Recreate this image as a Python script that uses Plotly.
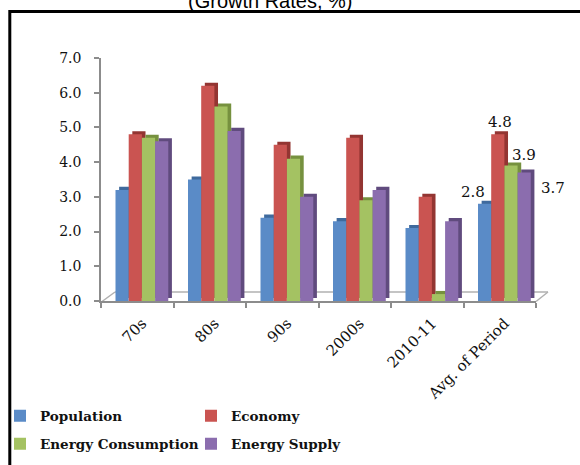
import plotly.graph_objects as go

# ---------------- data ----------------
categories = ["70s", "80s", "90s", "2000s", "2010-11", "Avg. of Period"]
series_names = ["Population", "Economy", "Energy Consumption", "Energy Supply"]
population = [3.2, 3.5, 2.4, 2.3, 2.1, 2.8]
economy = [4.8, 6.2, 4.5, 4.7, 3.0, 4.8]
energy_consumption = [4.7, 5.6, 4.1, 2.9, 0.2, 3.9]
energy_supply = [4.6, 4.9, 3.0, 3.2, 2.3, 3.7]
y_ticks = [0, 1, 2, 3, 4, 5, 6, 7]

series_values = [population, economy, energy_consumption, energy_supply]
front_colors = ["#5A8BC7", "#CA5451", "#A4C262", "#8B6DAE"]
side_colors = ["#3F6A9D", "#933532", "#76913F", "#604B7E"]
legend_ids = ["legend", "legend", "legend2", "legend2"]

# ---------------- layout geometry (pixels) ----------------
W, H = 580, 465
L, R, T, B = 101, 536, 58, 301


def pxx(p):
    return (p - L) / (R - L)


def pxy(p):
    return (B - p) / (B - T)


def cx(p):
    return p / W


def cy(p):
    return 1 - p / H


bar_w = 0.182
first_off = -0.30
depth_dx = 0.05
depth_dy = 0.09
xs = list(range(len(categories)))

fig = go.Figure()

# side/top faces (darker, shifted back bars)
for i, vals in enumerate(series_values):
    fig.add_trace(go.Bar(
        x=xs, y=vals, base=depth_dy,
        width=bar_w, offset=first_off + i * bar_w + depth_dx,
        marker=dict(color=side_colors[i], line=dict(width=0)),
        showlegend=False, hoverinfo="skip",
    ))

# front faces
for i, vals in enumerate(series_values):
    fig.add_trace(go.Bar(
        x=xs, y=vals, name=series_names[i],
        width=bar_w, offset=first_off + i * bar_w,
        marker=dict(color=front_colors[i], line=dict(width=0)),
        legend=legend_ids[i],
    ))

# data labels on the last category
label_shifts = [(-12, 12), (2, 12), (13, 11), (29, -15)]
last = len(categories) - 1
for i, vals in enumerate(series_values):
    dxs, dys = label_shifts[i]
    fig.add_annotation(
        x=last + first_off + (i + 0.5) * bar_w, y=vals[last],
        xref="x", yref="y", text=f"{vals[last]:.1f}", showarrow=False,
        xshift=dxs, yshift=dys,
        font=dict(family="DejaVu Serif", size=15, color="#111"),
    )

# title (partially cut at the top, as in the original)
fig.add_annotation(
    x=pxx(270), y=pxy(1), xref="paper", yref="paper",
    text="(Growth Rates, %)", showarrow=False, yanchor="middle",
    font=dict(family="Liberation Sans", size=20, color="#000"),
)

shapes = []
# outer border (left + top visible)
shapes.append(dict(type="path", xref="paper", yref="paper",
                   path=f"M {pxx(9.8)} {pxy(480)} L {pxx(9.8)} {pxy(11.6)} L {pxx(600)} {pxy(11.6)}",
                   line=dict(color="#000", width=3)))
# 3D floor outline
floor_col = "#B0B0B0"
for (x0, y0, x1, y1) in [(102, 301.5, 115, 292), (115, 292, 548, 292), (536, 301.5, 548, 292)]:
    shapes.append(dict(type="line", xref="paper", yref="paper", layer="below",
                       x0=pxx(x0), y0=pxy(y0), x1=pxx(x1), y1=pxy(y1),
                       line=dict(color=floor_col, width=1.5)))

legend_font = dict(family="DejaVu Serif", size=13.5, color="#111", weight="bold")

fig.update_layout(
    width=W, height=H,
    margin=dict(l=L, r=W - R, t=T, b=H - B, autoexpand=False),
    paper_bgcolor="white", plot_bgcolor="white",
    barmode="overlay",
    shapes=shapes,
    xaxis=dict(
        range=[-0.5, len(categories) - 0.5],
        tickvals=xs, ticktext=categories, ticks="",
        tickangle=-45, ticklabelstandoff=6, ticklabelshift=5,
        tickfont=dict(family="DejaVu Serif", size=15, color="#111"),
        showline=True, linecolor="#8C8C8C", linewidth=1.5,
        showgrid=False, zeroline=False, automargin=False,
        minor=dict(tick0=-0.5, dtick=1, ticks="outside", ticklen=5,
                   tickcolor="#8C8C8C", tickwidth=1.5, showgrid=False),
    ),
    yaxis=dict(
        range=[0, 7], tickvals=y_ticks,
        ticktext=[f"{v:.1f}" for v in y_ticks],
        ticks="outside", ticklen=5, tickcolor="#8C8C8C", tickwidth=1.5,
        ticklabelstandoff=10,
        tickfont=dict(family="DejaVu Serif", size=14, color="#111"),
        showline=True, linecolor="#8C8C8C", linewidth=1.5,
        showgrid=False, zeroline=False, automargin=False,
    ),
    legend=dict(
        orientation="h", xref="container", yref="container",
        x=cx(-4), y=cy(416), xanchor="left", yanchor="middle",
        entrywidth=146, entrywidthmode="pixels",
        font=legend_font, bgcolor="rgba(0,0,0,0)",
    ),
    legend2=dict(
        orientation="h", xref="container", yref="container",
        x=cx(-4), y=cy(444), xanchor="left", yanchor="middle",
        entrywidth=146, entrywidthmode="pixels",
        font=legend_font, bgcolor="rgba(0,0,0,0)",
    ),
)

fig.write_html("out.html")
